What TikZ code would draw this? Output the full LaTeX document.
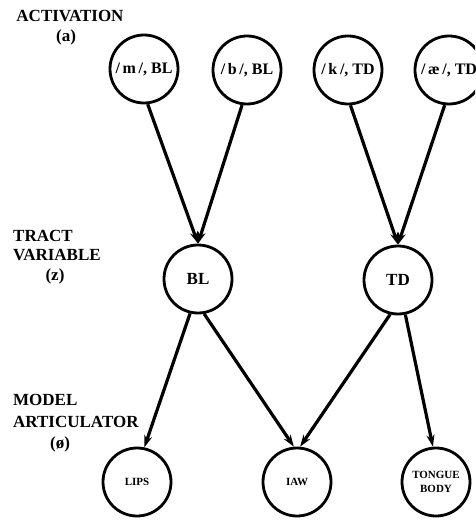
\documentclass[tikz,border=0pt]{standalone}
\usepackage{fontspec}
\setmainfont{Liberation Serif}
\usetikzlibrary{arrows.meta}
\begin{document}
\begin{tikzpicture}[x=1pt,y=-1pt,
  circ/.style={circle,draw,line width=2.8pt,inner sep=0pt,minimum size=68pt,font=\bfseries\fontsize{16}{17}\selectfont},
  small/.style={font=\bfseries\fontsize{11}{13}\selectfont},
  lev/.style={inner sep=0pt,font=\bfseries\fontsize{17}{19}\selectfont},
  conn/.style={line width=3.2pt,-{Stealth[length=12pt,width=8pt]}}]
\useasboundingbox (0,0) rectangle (475,521);
\clip (0,0) rectangle (475,521);
% level labels
\node[lev,anchor=base] (act1) at (70,22) {ACTIVATION};
\node[lev,anchor=base] (act2) at (66,42) {(a)};
\node[lev,anchor=base west] (tr1) at (13,241) {TRACT};
\node[lev,anchor=base west] (tr2) at (13,260) {VARIABLE};
\node[lev,anchor=base] (tr3) at (55,280) {(z)};
\node[lev,anchor=base west] (mo1) at (13,405) {MODEL};
\node[lev,anchor=base west] (mo2) at (13,427) {ARTICULATOR};
\node[lev,anchor=base] (mo3) at (60,448) {(ø)};
% nodes
\node[circ] (m) at (144,69) {/\,m\,/, BL};
\node[circ] (b) at (247,70) {/\,b\,/, BL};
\node[circ] (k) at (348,70) {/\,k\,/, TD};
\node[circ] (ae) at (449,70) {/\,æ\,/, TD};
\node[circ,font=\bfseries\fontsize{17}{18}\selectfont] (BL) at (198,279) {BL};
\node[circ,font=\bfseries\fontsize{17}{18}\selectfont] (TD) at (398,280) {TD};
\node[circ,small] (lips) at (137,482) {LIPS};
\node[circ,small] (jaw) at (297,482) {IAW};
\node[circ,small,align=center,font=\bfseries\fontsize{11}{14}\selectfont] (tb) at (436,482) {TONGUE\\BODY};
% connectors
\draw[conn] (m.-84) -- (BL.north);
\draw[conn] (b.-98) -- (BL.north);
\draw[conn] (k.-86) -- (TD.north);
\draw[conn] (ae.-97) -- (TD.north);
\draw[conn] (BL.-103) -- (lips.78);
\draw[conn] (BL.-80) -- (jaw.95);
\draw[conn] (TD.-103) -- (jaw.85);
\draw[conn] (TD.-78) -- (tb.95);
\end{tikzpicture}
\end{document}
